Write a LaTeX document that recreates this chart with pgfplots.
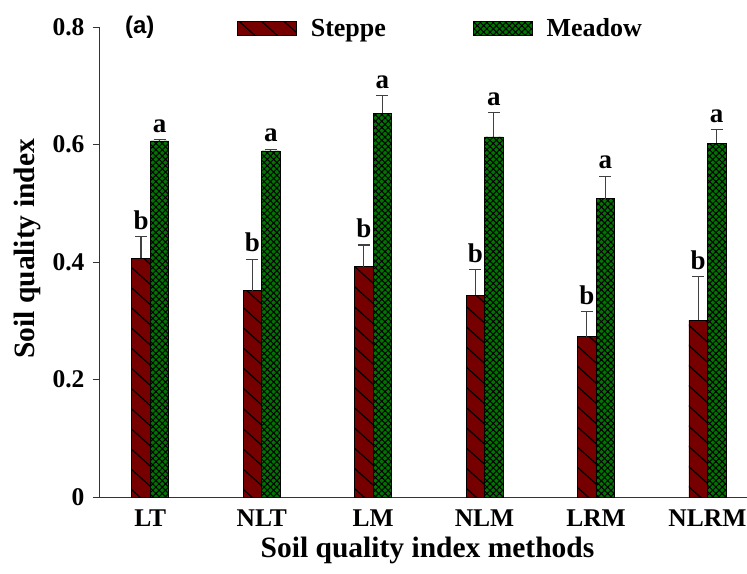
\documentclass[border=0pt]{standalone}
\usepackage{pgfplots}
\pgfplotsset{compat=1.18}
\usepackage{fontspec}
\setmainfont{Liberation Serif}
\newfontfamily\sansf{Liberation Sans}
\usetikzlibrary{patterns.meta}
\definecolor{steppe}{RGB}{118,0,0}
\definecolor{meadow}{RGB}{0,118,0}
\begin{document}
\begin{tikzpicture}
\begin{axis}[
  scale only axis, width=648pt, height=470pt,
  xmin=-0.46, xmax=5.355, ymin=0, ymax=0.8,
  axis x line*=bottom, axis y line*=left,
  axis line style={black!80, line width=0.9pt},
  ybar=0pt, bar width=18.5pt,
  xtick={0,...,5}, xticklabels={LT,NLT,LM,NLM,LRM,NLRM},
  xtick style={draw=none},
  ytick={0,0.2,0.4,0.6,0.8},
  yticklabels={0,0.2,0.4,0.6,0.8},
  tick align=outside, major tick length=6pt,
  ytick style={black!80, line width=0.9pt},
  tick label style={font=\fontsize{25.5}{25.5}\selectfont\bfseries},
  yticklabel style={xshift=-5pt},
  xticklabel style={yshift=-3pt},
  xlabel={Soil quality index methods}, ylabel={Soil quality index},
  label style={font=\fontsize{29.5}{30}\selectfont\bfseries},
  xlabel style={at={(axis description cs:0.507,-0.1135)}, anchor=center},
  ylabel style={at={(axis description cs:-0.111,0.528)}, anchor=center},
  legend style={draw=none, fill=none, legend columns=2, at={(0.213,0.997)}, anchor=west,
    font=\fontsize{26}{26}\selectfont\bfseries, inner sep=0pt, row sep=0pt,
    nodes={inner sep=0pt},
    /tikz/every odd column/.append style={column sep=14pt},
    /tikz/every even column/.append style={column sep=87pt}},
  legend image code/.code={\draw[#1] (0pt,-7pt) rectangle (59pt,7pt);},
  clip=false,
  error bars/error bar style={black!75, line width=1.1pt},
  error bars/error mark options={rotate=90, black!75, line width=1.1pt, mark size=6pt},
]
\addplot[fill=steppe, draw=black, line width=0.6pt,
  postaction={pattern={Lines[angle=-42,distance=15pt,line width=1.2pt]}, pattern color=black},
  error bars/.cd, y dir=plus, y explicit]
  coordinates {(0,0.406) +- (0,0.037) (1,0.351) +- (0,0.054) (2,0.392) +- (0,0.037)
               (3,0.343) +- (0,0.044) (4,0.273) +- (0,0.042) (5,0.301) +- (0,0.074)};
\addlegendentry{Steppe}
\addplot[fill=meadow, draw=black, line width=0.6pt,
  postaction={pattern={Hatch[angle=45,distance=4.5pt,line width=1pt]}, pattern color=black},
  error bars/.cd, y dir=plus, y explicit]
  coordinates {(0,0.606) +- (0,0.002) (1,0.589) +- (0,0.003) (2,0.653) +- (0,0.030)
               (3,0.613) +- (0,0.041) (4,0.508) +- (0,0.038) (5,0.602) +- (0,0.023)};
\addlegendentry{Meadow}
\coordinate (sw) at (rel axis cs:0,0);
\begin{scope}[every node/.style={anchor=south, inner sep=0pt, yshift=7pt, font=\fontsize{27}{27}\selectfont\bfseries}]
\node at ([xshift=-9.25pt]axis cs:0,0.443) {b};
\node at ([xshift=-9.25pt]axis cs:1,0.405) {b};
\node at ([xshift=-9.25pt]axis cs:2,0.429) {b};
\node at ([xshift=-9.25pt]axis cs:3,0.387) {b};
\node at ([xshift=-9.25pt]axis cs:4,0.315) {b};
\node at ([xshift=-9.25pt]axis cs:5,0.375) {b};
\node at ([xshift=9.25pt]axis cs:0,0.608) {a};
\node at ([xshift=9.25pt]axis cs:1,0.592) {a};
\node at ([xshift=9.25pt]axis cs:2,0.683) {a};
\node at ([xshift=9.25pt]axis cs:3,0.654) {a};
\node at ([xshift=9.25pt]axis cs:4,0.546) {a};
\node at ([xshift=9.25pt]axis cs:5,0.625) {a};
\end{scope}
\node[anchor=west, inner sep=0pt, font=\sansf\bfseries\fontsize{24}{24}\selectfont] at (rel axis cs:0.04,1.0) {(a)};
\end{axis}
\pgfresetboundingbox
\path ([shift={(-99pt,-76pt)}]sw) rectangle ([shift={(648pt,497pt)}]sw);
\end{tikzpicture}
\end{document}
